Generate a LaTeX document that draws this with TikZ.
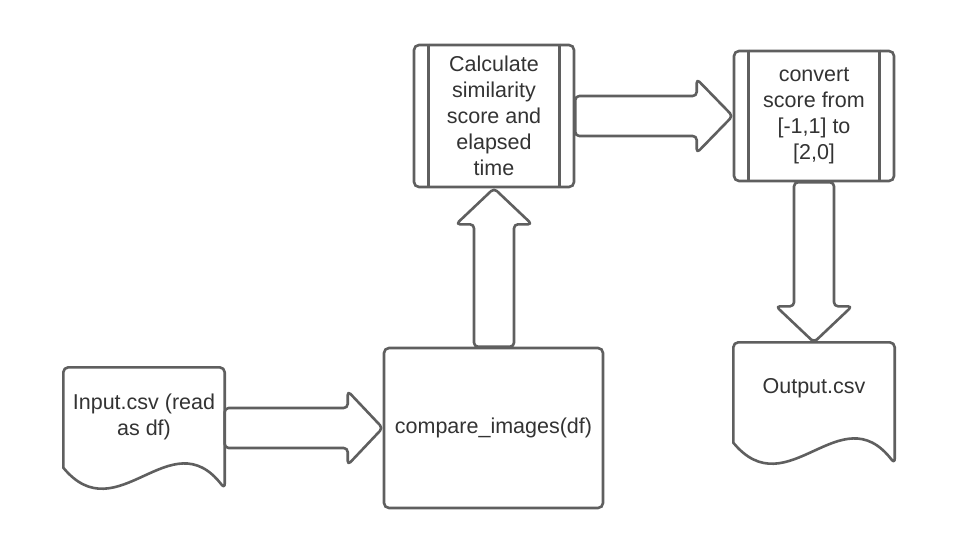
\documentclass[tikz,border=0pt]{standalone}
\usepackage{fontspec}
\setmainfont{Liberation Sans}
\usetikzlibrary{calc}
\definecolor{ln}{HTML}{5F5F5F}
\definecolor{tx}{HTML}{333333}
\begin{document}
\begin{tikzpicture}[x=1pt,y=-1pt,
  lbl/.style={text=tx, font=\fontsize{21.5}{26}\selectfont, align=center, inner sep=0pt},
  procbox/.style={draw=ln, line width=2.6pt, rounded corners=5pt, fill=white, inner sep=0pt},
  docarea/.style={inner sep=0pt, minimum width=161pt, minimum height=121pt},
  docline/.style={draw=ln, line width=2.6pt, fill=white, line join=round},
  sideline/.style={draw=ln, line width=2.6pt},
  barrow/.style={draw=ln, line width=2.6pt, rounded corners=4pt, fill=white, line join=round}]
\useasboundingbox (0,0) rectangle (957,554);

% process boxes
\node[procbox, lbl, minimum width=219pt, minimum height=160pt] (cmp) at (493.5,428) {compare\_images(df)};
\node[procbox, lbl, minimum width=160pt, minimum height=142pt] (calc) at (494,116) {Calculate\\similarity\\score and\\elapsed\\time};
\node[procbox, lbl, minimum width=160pt, minimum height=130pt] (conv) at (814,116) {convert\\score from\\{[-1,1]} to\\{[2,0]}};
\draw[sideline] ($(calc.north west)+(16,0)$) -- ($(calc.south west)+(16,0)$);
\draw[sideline] ($(calc.north east)+(-16,0)$) -- ($(calc.south east)+(-16,0)$);
\draw[sideline] ($(conv.north west)+(16,0)$) -- ($(conv.south west)+(16,0)$);
\draw[sideline] ($(conv.north east)+(-16,0)$) -- ($(conv.south east)+(-16,0)$);

% documents
\node[docarea] (in) at (144,428) {};
\draw[docline] ($(in.south west)+(0,-21)$) {[rounded corners=5pt] -- (in.north west) -- (in.north east) -- (in.south east)}
  .. controls ($(in.south east)+(-54,-70)$) and ($(in.south west)+(54,44.5)$) .. ($(in.south west)+(0,-21)$) -- cycle;
\node[lbl] at ($(in.center)+(0,-11)$) {Input.csv (read\\as df)};

\node[docarea] (out) at (814,403) {};
\draw[docline] ($(out.south west)+(0,-21)$) {[rounded corners=5pt] -- (out.north west) -- (out.north east) -- (out.south east)}
  .. controls ($(out.south east)+(-54,-70)$) and ($(out.south west)+(54,44.5)$) .. ($(out.south west)+(0,-21)$) -- cycle;
\node[lbl] at ($(out.center)+(0,-15)$) {Output.csv};

% block arrows
\draw[barrow] ($(in.east)+(0,-20)$) -- ($(cmp.west)+(-35,-20)$) -- ($(cmp.west)+(-35,-37)$) -- (cmp.west)
  -- ($(cmp.west)+(-35,37)$) -- ($(cmp.west)+(-35,20)$) -- ($(in.east)+(0,20)$) -- cycle;
\draw[barrow] ($(calc.south|-cmp.north)+(-20,0)$) -- ($(calc.south)+(-20,36)$) -- ($(calc.south)+(-38,36)$) -- (calc.south)
  -- ($(calc.south)+(38,36)$) -- ($(calc.south)+(20,36)$) -- ($(calc.south|-cmp.north)+(20,0)$) -- cycle;
\draw[barrow] ($(calc.east)+(0,-20)$) -- ($(conv.west)+(-36,-20)$) -- ($(conv.west)+(-36,-37)$) -- (conv.west)
  -- ($(conv.west)+(-36,37)$) -- ($(conv.west)+(-36,20)$) -- ($(calc.east)+(0,20)$) -- cycle;
\draw[barrow] ($(conv.south)+(-20,0)$) -- ($(out.north)+(-20,-36)$) -- ($(out.north)+(-38,-36)$) -- (out.north)
  -- ($(out.north)+(38,-36)$) -- ($(out.north)+(20,-36)$) -- ($(conv.south)+(20,0)$) -- cycle;
\end{tikzpicture}
\end{document}
